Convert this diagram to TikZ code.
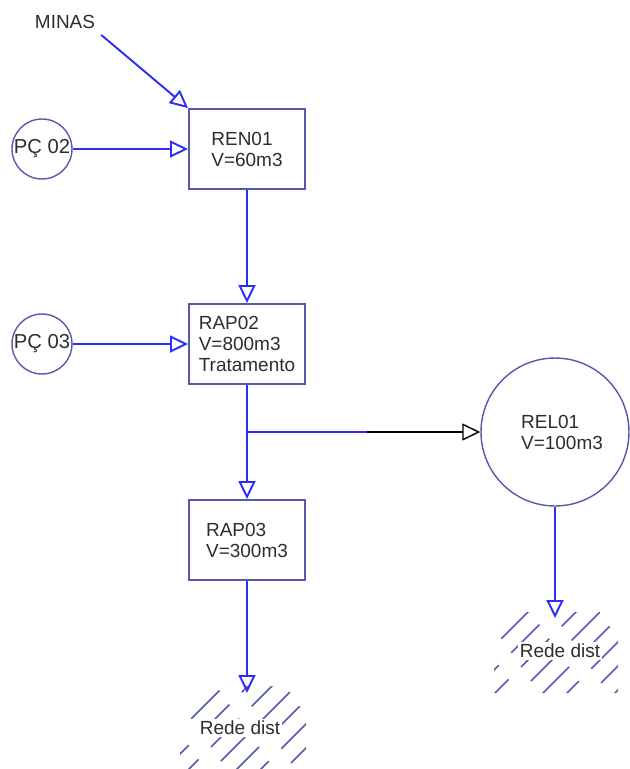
\documentclass[tikz,border=0pt]{standalone}
\usepackage{fontspec}
\setmainfont{Liberation Sans}
\usetikzlibrary{arrows.meta,positioning}

\definecolor{boxblue}{RGB}{85,90,170}
\definecolor{flowblue}{RGB}{45,45,250}
\definecolor{txtgray}{RGB}{45,45,45}

\tikzset{
  reservatorio/.style={draw=boxblue, line width=1.1pt, minimum width=2.32cm,
    minimum height=1.6cm, align=left, text=txtgray,
    font=\fontsize{10.8}{12}\selectfont},
  poco/.style={circle, draw=boxblue, line width=0.8pt, minimum size=1.2cm,
    inner sep=0pt, text=txtgray, font=\fontsize{11.5}{13}\selectfont},
  fluxo/.style={draw=flowblue, line width=1.1pt,
    -{Triangle[open,length=0.36cm,width=0.34cm]}},
  hatch/.style={draw=boxblue, line width=0.9pt, dash pattern=on 0.8cm off 0.35cm},
  rotulo/.style={text=txtgray, font=\fontsize{10.8}{12}\selectfont},
}

\begin{document}
\begin{tikzpicture}[x=0.02cm, y=-0.02cm]
    \useasboundingbox (0,0) rectangle (630,769);

    % Reservatorios
    \node[reservatorio] (ren01) at (247,149) {REN01\\V=60m3};
    \node[reservatorio] (rap02) at (247,344) {RAP02\\V=800m3\\Tratamento};
    \node[reservatorio] (rap03) at (247,540) {RAP03\\V=300m3};
    \node[poco, minimum size=2.96cm, font=\fontsize{10.8}{12}\selectfont,
      align=left] (rel01) at (555,432) {\hspace*{8pt}REL01\\\hspace*{8pt}V=100m3};

    % Pocos e entradas
    \node[poco] (pc02) at (42,149) {PÇ 02};
    \node[poco] (pc03) at (42,344) {PÇ 03};
    \node[rotulo] (minas) at (65,22) {MINAS};

    % Hachuras da rede de distribuicao
    \begin{scope}
      \clip (180,686) rectangle (306,769);
      \foreach \k in {0,...,10}
        \draw[hatch, dash phase=0.4*\k cm] (110+24*\k,800) -- ++(130,-130);
    \end{scope}
    \begin{scope}
      \clip (494,612) rectangle (618,692);
      \foreach \k in {0,...,10}
        \draw[hatch, dash phase=0.4*\k cm] (420+24*\k,720) -- ++(130,-130);
    \end{scope}
    \node[rotulo, fill=white, inner sep=1pt] (rede1) at (240,728) {Rede dist};
    \node[rotulo, fill=white, inner sep=1pt] (rede2) at (560,651) {Rede dist};

    \coordinate (saida1) at (247,693);
    \coordinate (saida2) at (555,618);
    \coordinate (juncao) at (247,432);
    \coordinate (meio) at (367,432);

    % Fluxos
    \draw[fluxo] (minas.south east) -- (ren01.north west);
    \draw[fluxo] (pc02.east) -- (ren01.west);
    \draw[fluxo] (pc03.east) -- (rap02.west);
    \draw[fluxo] (ren01.south) -- (rap02.north);
    \draw[fluxo] (rap02.south) -- (rap03.north);
    \draw[fluxo] (rap03.south) -- (saida1);
    \draw[fluxo] (rel01.south) -- (saida2);
    \draw[draw=flowblue, line width=0.8pt] (juncao) -- (meio);
    \draw[line width=0.8pt, -{Triangle[open,length=0.36cm,width=0.34cm]}] (meio) -- (rel01.west);
\end{tikzpicture}
\end{document}
